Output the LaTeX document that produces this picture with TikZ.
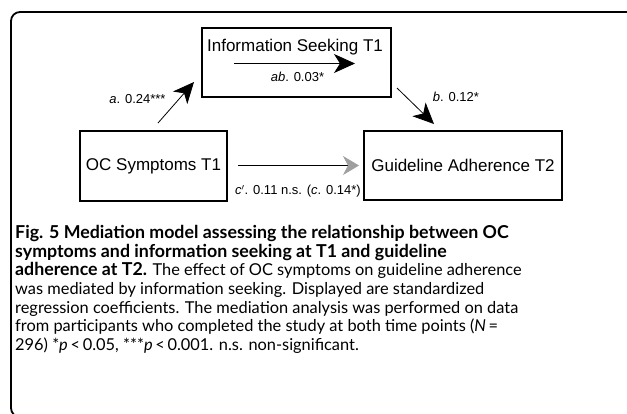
\documentclass[tikz,border=0pt]{standalone}
\usepackage{fontspec}
\setmainfont{Liberation Sans}
\newfontfamily\capfont{Lato}[Scale=1.05]
\newfontfamily\capboldfont{Lato}[Scale=1.14]
\newcommand\capbf[1]{{\capboldfont\bfseries #1}}
\usepackage{tikz}
\usetikzlibrary{positioning, arrows.meta}

\tikzset{
  box/.style={draw, line width=2.2pt, inner sep=0pt, font=\fontsize{17}{20}\selectfont},
  lab/.style={inner sep=0pt, font=\fontsize{13}{15}\selectfont},
  arr/.style={line width=0.8pt, -{Stealth[length=21pt, width=19pt, inset=6pt]}},
  captext/.style={anchor=base west, inner sep=0pt, font=\capfont\fontsize{15.6}{18.7}\selectfont}
}

\begin{document}
\begin{tikzpicture}[x=1pt, y=-1pt]
                \useasboundingbox (0,0) rectangle (627,413);
                % rahmen
                \draw[line width=1.8pt, rounded corners=9pt] (11,12) rectangle (636,417);

                \node[box, minimum width=189pt, minimum height=69pt] (info) at (296.5,62.5) {};
                \node[box, minimum width=147pt, minimum height=70pt] (oc) at (153.5,166) {OC Symptoms T1};
                \node[box, minimum width=198pt, minimum height=69pt] (guide) at (463,165.5) {Guideline Adherence T2};
                \node[lab, font=\fontsize{17}{20}\selectfont] (infotitle) at (295,47) {Information Seeking T1};

                \coordinate (abstart) at (234,63.5);
                \coordinate (abend) at (355,63.5);
                \coordinate (astart) at (158,123);
                \coordinate (aend) at (194,82);
                \coordinate (bstart) at (397,88);
                \coordinate (bend) at (434,124);
                \coordinate (cstart) at (238,165.5);
                \coordinate (cend) at (359,165.5);

                \draw[arr] (abstart) -- (abend);
                \draw[arr] (astart) -- (aend);
                \draw[arr] (bstart) -- (bend);
                \draw[line width=0.8pt, -{Stealth[length=16pt, width=19pt, inset=5pt, color=gray!75, fill=gray!75]}] (cstart) -- (cend);

                \node[lab] (ablab) at (297.5,77) {\textit{ab}. 0.03*};
                \node[lab] (alab) at (137.5,99) {\textit{a}. 0.24***};
                \node[lab] (blab) at (456,97) {\textit{b}. 0.12*};
                \node[lab] (clab) at (298,191) {\textit{c}$'$. 0.11 n.s. (\textit{c}. 0.14*)};

                % bildunterschrift
                \node[captext] (cap1) at (15,238.3) {\capbf{Fig. 5 Mediation model assessing the relationship between OC}};
                \node[captext] (cap2) at (15,257) {\capbf{symptoms and information seeking at T1 and guideline}};
                \node[captext] (cap3) at (15,275.7) {\capbf{adherence at T2.} The effect of OC symptoms on guideline adherence};
                \node[captext] (cap4) at (15,294.4) {was mediated by information seeking. Displayed are standardized};
                \node[captext] (cap5) at (15,313.1) {regression coefficients. The mediation analysis was performed on data};
                \node[captext] (cap6) at (15,331.8) {from participants who completed the study at both time points (\textit{N}\,=};
                \node[captext] (cap7) at (15,350.5) {296) *\textit{p}\,<\,0.05, ***\textit{p}\,<\,0.001. n.s. non-significant.};
\end{tikzpicture}
\end{document}
